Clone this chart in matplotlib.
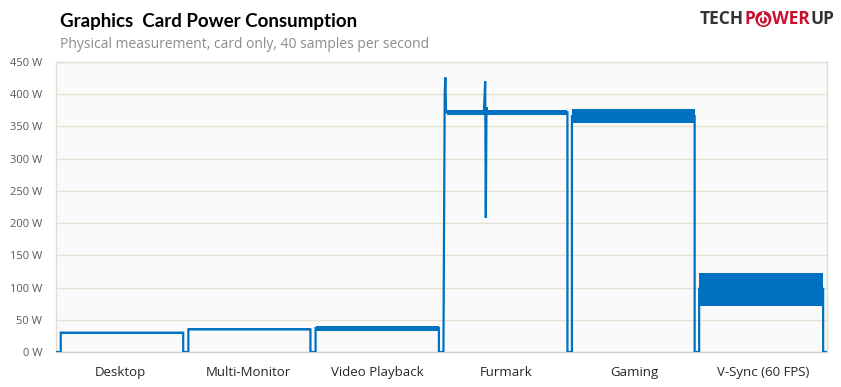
import matplotlib
matplotlib.use("Agg")
import matplotlib.pyplot as plt
from matplotlib.patches import Circle
from matplotlib.lines import Line2D

# ---- data ----
categories = ["Desktop", "Multi-Monitor", "Video Playback", "Furmark", "Gaming", "V-Sync (60 FPS)"]

# step outline of the power trace (x in test-segment units, y in W)
trace_x = [0.00, 0.037, 0.037, 0.99, 0.99, 1.03, 1.03, 1.98, 1.98, 2.02, 2.02, 2.98, 2.98, 3.015,
           3.025, 3.03, 3.035, 3.04, 3.33, 3.34, 3.345, 3.35, 3.355, 3.36, 3.98, 3.98, 4.015,
           4.015, 4.97, 4.97, 5.005, 5.005, 5.97, 5.97, 6.00]
trace_y = [0, 0, 30, 30, 0, 0, 35, 35, 0, 0, 37, 37, 0, 0,
           400, 426, 372, 372, 372, 420, 208, 380, 372, 372, 372, 0, 0,
           366, 366, 0, 0, 98, 98, 0, 0]

# noise envelopes of each test (start, end, low, high)
band_start = [0.037, 1.03, 2.02, 3.04, 4.015, 5.005]
band_end = [0.99, 1.98, 2.98, 3.98, 4.97, 5.97]
band_low = [28.5, 34, 32, 368, 356, 72]
band_high = [31.5, 37, 41, 376, 377, 122]

y_ticks = [0, 50, 100, 150, 200, 250, 300, 350, 400, 450]

blue = "#0070c0"
W, H = 841, 387

fig = plt.figure(figsize=(W / 100, H / 100), dpi=100)
ax = fig.add_axes([56 / W, 1 - 352 / H, (827 - 56) / W, (352 - 62) / H])
ax.set_facecolor("#fafafa")

for s, e, lo, hi in zip(band_start, band_end, band_low, band_high):
    ax.fill_between([s, e], [lo, lo], [hi, hi], color=blue, linewidth=0, zorder=3)
ax.plot(trace_x, trace_y, color=blue, linewidth=1.6, zorder=4, solid_joinstyle="miter")

ax.set_xlim(0, 6)
ax.set_ylim(0, 450)
ax.set_yticks(y_ticks)
ax.set_yticklabels([f"{v} W" for v in y_ticks], fontsize=8, color="#595959", family="Open Sans")
ax.set_xticks([i + 0.5 for i in range(len(categories))])
ax.set_xticklabels(categories, fontsize=9.5, color="#262626", family="Open Sans")
ax.tick_params(axis="both", length=0)
ax.tick_params(axis="y", pad=10)
ax.tick_params(axis="x", pad=10)
ax.grid(axis="y", color="#e6e1d2", linewidth=1.0, zorder=0)
ax.set_axisbelow(True)
for sp in ax.spines.values():
    sp.set_color("#e0ddd3")
    sp.set_linewidth(1.0)
ax.spines["bottom"].set_color("#d0cdc4")

fig.text(60 / W, 1 - 22 / H, "Graphics  Card Power Consumption", fontsize=13.5, fontweight="bold",
         color="#000000", family="Lato", va="center", ha="left")
fig.text(60 / W, 1 - 45 / H, "Physical measurement, card only, 40 samples per second", fontsize=10,
         color="#8c8c8c", family="Open Sans", va="center", ha="left")

# logo (drawn in pixel coordinates)
fig.canvas.draw()
renderer = fig.canvas.get_renderer()
x = 700
yc = H - 19
parts = [("TECH", "#333333"), ("P", "#c8102e"), ("O", None), ("WER", "#c8102e"), ("UP", "#333333")]
for txt, col in parts:
    if col is None:
        cx, r = x + 8.5, 8
        fig.patches.append(Circle((cx, yc), r, transform=None, facecolor="#c8102e", edgecolor="none"))
        fig.patches.append(Circle((cx, yc - 1), 4.5, transform=None, facecolor="none",
                                  edgecolor="white", linewidth=1.3))
        fig.lines.append(Line2D([cx, cx], [yc - 1, yc + 6], transform=None, color="white", linewidth=1.6))
        x += 17.5
        continue
    t = fig.text(x / W, yc / H, txt, fontsize=12.5, fontweight="bold", color=col,
                 family="Open Sans", va="center", ha="left")
    bb = t.get_window_extent(renderer)
    x += bb.width

fig.savefig("out.png", dpi=100, facecolor="white")
